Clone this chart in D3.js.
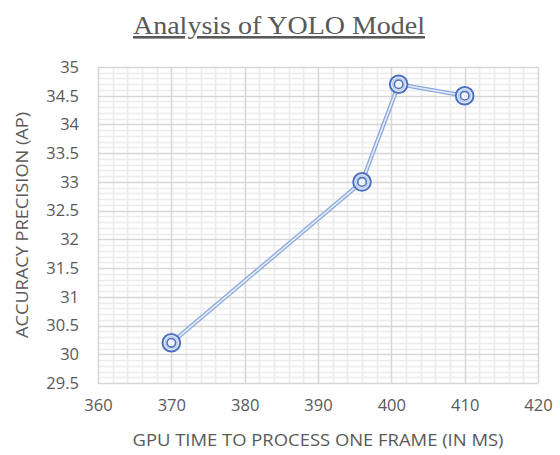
<!DOCTYPE html>
<html><head><meta charset="utf-8">
<script src="https://cdn.jsdelivr.net/npm/d3@7"></script>
<style>body{margin:0;background:#fff}svg{display:block}</style>
</head><body>
<script>
const gpuTime = [370, 396, 401, 410];
const accuracy = [30.2, 33, 34.7, 34.5];
const xTicks = [360, 370, 380, 390, 400, 410, 420];
const yTicks = [29.5, 30, 30.5, 31, 31.5, 32, 32.5, 33, 33.5, 34, 34.5, 35];
const title = "Analysis of YOLO Model";
const xTitle = "GPU TIME TO PROCESS ONE FRAME (IN MS)";
const yTitle = "ACCURACY PRECISION (AP)";

const W = 560, H = 455;
const m = {left: 98, right: 22, top: 67, bottom: 72};
const svg = d3.select("body").append("svg").attr("width", W).attr("height", H);
const x = d3.scaleLinear().domain([360, 420]).range([m.left, W - m.right]);
const y = d3.scaleLinear().domain([29.5, 35]).range([H - m.bottom, m.top]);

// minor grid
const xMinor = d3.range(360, 420.001, 2).filter(v => v % 10 !== 0);
const yMinor = d3.range(0, 56).map(i => +(29.5 + i * 0.1).toFixed(1)).filter(v => Math.abs(v * 2 - Math.round(v * 2)) > 1e-6);
const g = svg.append("g");
g.selectAll(".ym").data(yMinor).join("line")
  .attr("x1", x(360)).attr("x2", x(420)).attr("y1", d => Math.round(y(d)) + 0.5).attr("y2", d => Math.round(y(d)) + 0.5)
  .attr("stroke", "#ececec").attr("stroke-width", 1.6);
g.selectAll(".xm").data(xMinor).join("line")
  .attr("y1", y(29.5)).attr("y2", y(35)).attr("x1", d => Math.round(x(d)) + 0.5).attr("x2", d => Math.round(x(d)) + 0.5)
  .attr("stroke", "#ececec").attr("stroke-width", 1.6);
// major grid
g.selectAll(".yM").data(yTicks).join("line")
  .attr("x1", x(360)).attr("x2", x(420)).attr("y1", d => Math.round(y(d)) + 0.5).attr("y2", d => Math.round(y(d)) + 0.5)
  .attr("stroke", "#d6d6d6").attr("stroke-width", 1.5);
g.selectAll(".xM").data(xTicks).join("line")
  .attr("y1", y(29.5)).attr("y2", y(35)).attr("x1", d => Math.round(x(d)) + 0.5).attr("x2", d => Math.round(x(d)) + 0.5)
  .attr("stroke", "#d6d6d6").attr("stroke-width", 1.5);

// axes labels via d3 axes
const xAxis = svg.append("g").attr("transform", `translate(0,${y(29.5)})`)
  .call(d3.axisBottom(x).tickValues(xTicks).tickSize(0).tickPadding(16));
const yAxis = svg.append("g").attr("transform", `translate(${x(360)},0)`)
  .call(d3.axisLeft(y).tickValues(yTicks).tickSize(0).tickPadding(19).tickFormat(d3.format("")));
[xAxis, yAxis].forEach(a => {
  a.select(".domain").remove();
  a.selectAll("text").attr("fill", "#595959").attr("font-family", "Open Sans, sans-serif").attr("font-size", 16.5);
});

// line (double compound)
const line = d3.line().x((d, i) => x(gpuTime[i])).y(d => y(d));
svg.append("path").attr("d", line(accuracy)).attr("fill", "none").attr("stroke", "#8aa8dc").attr("stroke-width", 4.2).attr("stroke-linejoin", "round");
svg.append("path").attr("d", line(accuracy)).attr("fill", "none").attr("stroke", "#e6ecf8").attr("stroke-width", 1.6).attr("stroke-linejoin", "round");

// markers
const mk = svg.append("g").selectAll("g").data(accuracy).join("g")
  .attr("transform", (d, i) => `translate(${x(gpuTime[i])},${y(d)})`);
mk.append("circle").attr("r", 8.8).attr("fill", "#e8eef8").attr("stroke", "#4a72c0").attr("stroke-width", 2);
mk.append("circle").attr("r", 6.2).attr("fill", "none").attr("stroke", "#b9c9ea").attr("stroke-width", 1.2);
mk.append("circle").attr("r", 4.3).attr("fill", "#eef2fa").attr("stroke", "#4a72c0").attr("stroke-width", 1.6);

// title
svg.append("text").attr("x", 279).attr("y", 34).attr("text-anchor", "middle")
  .attr("font-family", "Liberation Serif, Times New Roman, serif").attr("font-size", 26)
  .attr("fill", "#595959").attr("text-decoration", "underline")
  .attr("textLength", 292).attr("lengthAdjust", "spacingAndGlyphs").text(title);

// axis titles
svg.append("text").attr("x", 318).attr("y", 446).attr("text-anchor", "middle")
  .attr("font-family", "Open Sans, sans-serif").attr("font-size", 16).attr("fill", "#595959")
  .attr("textLength", 371).attr("lengthAdjust", "spacingAndGlyphs").text(xTitle);
svg.append("text").attr("transform", "translate(28,225) rotate(-90)").attr("text-anchor", "middle")
  .attr("font-family", "Open Sans, sans-serif").attr("font-size", 16).attr("fill", "#595959")
  .attr("textLength", 226).attr("lengthAdjust", "spacingAndGlyphs").text(yTitle);
</script>
</body></html>
